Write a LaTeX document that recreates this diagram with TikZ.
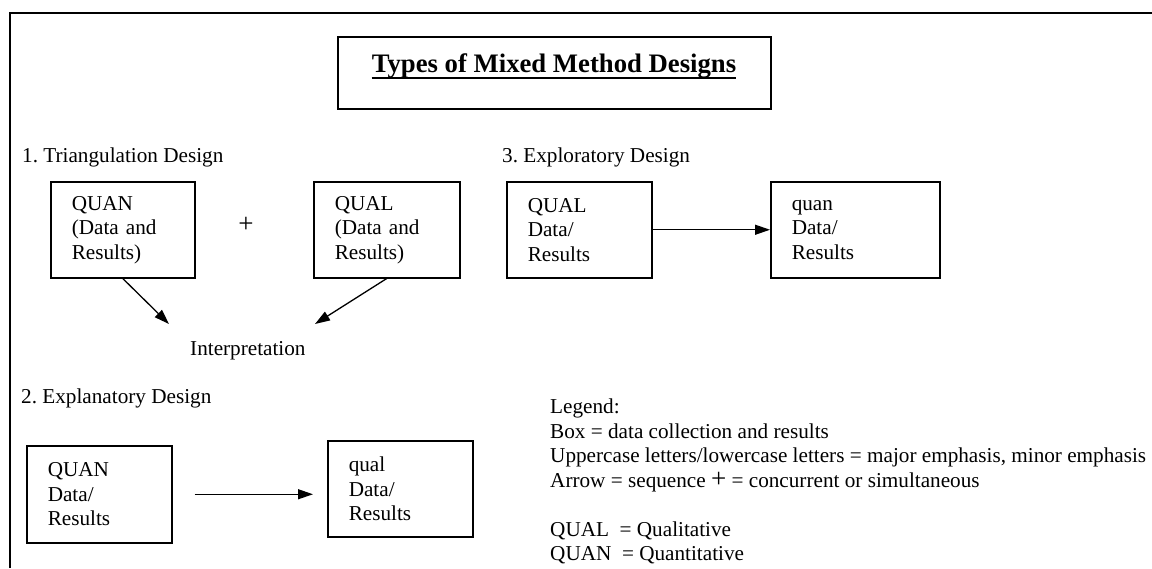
\documentclass[tikz,border=0pt]{standalone}
\usepackage{fontspec}
\setmainfont{Liberation Serif}
\usetikzlibrary{arrows.meta}
\frenchspacing

\begin{document}
\begin{tikzpicture}[x=1pt,y=-1pt,
  every node/.style={font=\fontsize{21.2}{24.5}\selectfont},
  label/.style={anchor=base west, inner sep=0pt},
  databox/.style={draw, line width=1.5pt, anchor=north west, inner xsep=21pt,
    inner ysep=0pt, align=left, minimum height=96pt},
  arr/.style={line width=1.3pt, -{Triangle[length=15pt,width=10pt]}},
  bigplus/.style={font=\fontsize{27}{27}\selectfont}]

\useasboundingbox (0,0) rectangle (1152,568);

% page frame
\draw[line width=1.7pt] (10,568) -- (10,13) -- (1152,13);

% title
\node[draw, line width=1.5pt, minimum width=433pt, minimum height=72pt, inner sep=0pt]
  (tbox) at (554.5,73) {};
\node[font=\fontsize{26.7}{30}\selectfont\bfseries, anchor=base, inner sep=0pt]
  (ttl) at (554,72) {Types of Mixed Method Designs};
\draw[line width=2pt] ([yshift=-6pt]ttl.base west) -- ([yshift=-6pt]ttl.base east);

% 1. Triangulation design
\node[label] (h1) at (22,162) {1. Triangulation Design};
\node[databox, minimum width=144pt, text width=102pt] (tq) at (50,181)
  {QUAN\\(Data and\\Results)};
\node[databox, minimum width=146pt, text width=104pt] (tl) at (313,181)
  {QUAL\\(Data and\\Results)};
\node[bigplus, inner sep=0pt] (plus) at (246,225) {+};
\node[label] (interp) at (190,355) {Interpretation};
\coordinate (ia) at (169,324);
\coordinate (ib) at (315,324);
\draw[arr] (tq.south) -- (ia);
\draw[arr] (tl.south) -- (ib);

% 3. Exploratory design
\node[label] (h3) at (502,162) {3. Exploratory Design};
\node[databox, minimum width=145pt, text width=103pt] (eq) at (506,181)
  {QUAL\\Data/\\Results};
\node[databox, minimum width=169pt, text width=127pt] (en) at (770,181)
  {quan\\Data/\\Results};
\draw[arr] (eq.east) -- (en.west);

% 2. Explanatory design
\node[label] (h2) at (21,403) {2. Explanatory Design};
\node[databox, minimum width=145pt, minimum height=97pt, text width=103pt] (xq) at (26,445)
  {QUAN\\Data/\\Results};
\node[databox, minimum width=145pt, text width=103pt] (xl) at (327,440)
  {qual\\Data/\\Results};
\draw[arr] ([xshift=22pt]xq.east) -- ([xshift=-14pt]xl.west |- xq.east);

% legend
\node[label] (lg0) at (550,413) {Legend:};
\node[label] (lg1) at (550,438) {Box = data collection and results};
\node[label] (lg2) at (550,462) {Uppercase letters/lowercase letters = major emphasis, minor emphasis};
\node[label] (lg3) at (550,487) {Arrow = sequence {\fontsize{27}{27}\selectfont +} = concurrent or simultaneous};
\node[label] (lg4) at (550,536) {QUAL\ \ = Qualitative};
\node[label] (lg5) at (550,560) {QUAN\ \ = Quantitative};

\end{tikzpicture}
\end{document}
